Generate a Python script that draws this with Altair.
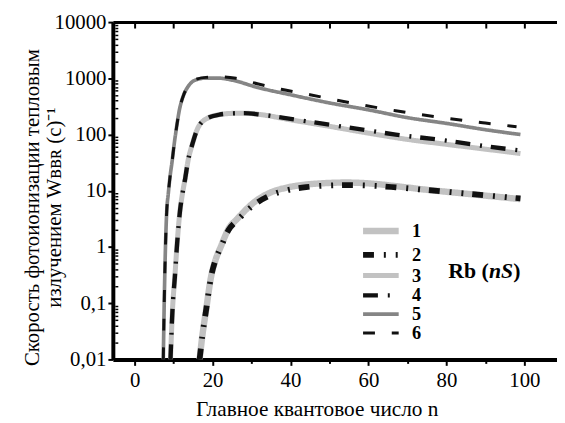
import altair as alt
import pandas as pd

# ---- data ----
SERIES = ["1", "2", "3", "4", "5", "6"]

N1 = [16.68, 17.34, 18.35, 19.62, 20.74, 22.16, 24.1, 26.4, 30.6, 34.85, 39.1, 44, 47.5, 54.3, 62, 67, 75, 80, 90, 99]
W1 = [0.01, 0.025, 0.076, 0.295, 0.58, 1.03, 2.1, 3.2, 6.2, 9.3, 11.4, 12.9, 13.5, 14.0, 13.2, 12.1, 10.4, 9.6, 8.2, 7.1]
N2 = [16.68, 17.34, 18.35, 19.62, 20.74, 22.16, 24.1, 26.4, 30.6, 34.85, 39.1, 44, 47.5, 54.3, 62, 67, 75, 80, 90, 99]
W2 = [0.01, 0.025, 0.076, 0.295, 0.58, 1.0, 2.0, 3.0, 5.6, 8.3, 10.2, 11.6, 12.2, 12.6, 12.2, 11.5, 10.3, 9.6, 8.3, 7.3]
N3 = [9.21, 9.72, 10.33, 10.91, 11.65, 12.26, 13.02, 13.7, 14.8, 16.24, 18.78, 21.75, 25, 28, 32, 40, 50, 60, 70, 80, 90, 99]
W3 = [0.01, 0.076, 0.295, 1.15, 4.4, 8.75, 17.2, 33.9, 66.7, 131, 197, 226, 238, 240, 228, 183, 140, 106, 82, 67, 55, 46]
N4 = [9.21, 9.72, 10.33, 10.91, 11.65, 12.26, 13.02, 13.7, 14.8, 16.24, 18.78, 21.75, 25, 28, 32, 40, 50, 60, 67, 80, 90, 99]
W4 = [0.01, 0.076, 0.295, 1.15, 4.4, 8.75, 17.2, 33.9, 66.7, 131, 197, 226, 238, 240, 228, 190, 150, 118, 100, 78, 62, 52]
N5 = [7.36, 7.69, 8.25, 8.63, 9.06, 9.64, 10.15, 10.74, 11.42, 12.6, 13.7, 15.4, 18.3, 21.5, 25, 31.5, 40, 50, 60, 70, 80, 90, 99]
W5 = [0.01, 0.21, 4.4, 8.7, 17, 34, 67, 131, 258, 509, 710, 920, 1010, 1010, 930, 690, 510, 365, 275, 200, 158, 122, 100]
N6 = [7.36, 7.69, 8.25, 8.63, 9.06, 9.64, 10.15, 10.74, 11.42, 12.6, 13.7, 15.4, 18.3, 22, 26, 31.5, 37.6, 45, 55, 67, 80, 90, 98]
W6 = [0.01, 0.21, 4.4, 8.7, 17, 34, 67, 131, 258, 509, 720, 940, 1040, 1060, 1000, 800, 640, 510, 372, 265, 195, 160, 138]

X_TICKS = [0, 10, 20, 30, 40, 50, 60, 70, 80, 90, 100]
Y_MAJOR = [0.01, 0.1, 1, 10, 100, 1000, 10000]
Y_MINOR = [k * d for d in [0.01, 0.1, 1, 10, 100, 1000] for k in range(2, 10)]

RB_N = [80.5]
RB_W = [0.277]

X_TITLE = "Главное квантовое число n"
Y_TITLE = ["Скорость фотоионизации тепловым", "излучением Wʙʙʀ (с)⁻¹"]

# ---- styles ----
COLORS = ["#c2c2c2", "#111111", "#c2c2c2", "#111111", "#858585", "#111111"]
DASHES = [[1, 0], [11, 10, 2, 10, 2, 9], [1, 0], [15, 10, 2, 9], [1, 0], [12, 17]]
WIDTHS = [6.5, 3, 8, 3, 3, 3]
FONT = "Liberation Serif"

rows = []
for s, ns, ws in zip(SERIES, [N1, N2, N3, N4, N5, N6], [W1, W2, W3, W4, W5, W6]):
    for n, w in zip(ns, ws):
        rows.append({"s": s, "n": n, "w": w})
df = pd.DataFrame(rows)
rb = pd.DataFrame({"n": RB_N, "w": RB_W})

xscale = alt.Scale(domain=[-5.58, 108.38], nice=False, zero=False)
yscale = alt.Scale(type="log", domain=[0.01, 10000], nice=False)

bottom_axis = alt.Axis(
    values=X_TICKS, format="d",
    labelExpr="datum.value % 20 == 0 ? datum.label : ''",
    tickSize={"condition": {"test": "datum.value % 20 != 0", "value": 4}, "value": 6},
    tickWidth=2, tickColor="black", domainWidth=4, domainColor="black",
    labelFont=FONT, labelFontSize=21, labelColor="black", labelPadding=4,
    grid=False, title=X_TITLE, titleFont=FONT, titleFontSize=21.5,
    titleFontWeight="normal", titleColor="black", titleX=206, titleY=57,
    titleBaseline="alphabetic", titleAlign="center",
)
left_axis = alt.Axis(
    values=Y_MAJOR,
    labelExpr="replace(format(datum.value, '~g'), '.', ',')",
    tickSize=5, tickWidth=2, tickColor="black", domainWidth=4, domainColor="black",
    labelFont=FONT, labelFontSize=21, labelColor="black", labelPadding=2,
    grid=False, title=Y_TITLE, titleFont=FONT, titleFontSize=21,
    titleFontWeight="normal", titleColor="black", titleAngle=270,
    titleX=-75, titleY=187, titleAlign="center", titleBaseline="alphabetic",
    titleLineHeight=22,
)
top_domain = alt.Axis(orient="top", domain=True, domainWidth=3, domainColor="black",
                      ticks=False, labels=False, title=None, grid=False)
top_ticks = alt.Axis(orient="top", offset=-6, values=X_TICKS, domain=False,
                     tickSize=6, tickWidth=2, tickColor="black",
                     labels=False, title=None, grid=False)
left_minor = alt.Axis(orient="left", offset=-5, values=Y_MINOR, domain=False,
                      tickSize=3, tickWidth=1.5, tickColor="black",
                      labels=False, title=None, grid=False)

leg = alt.Legend(
    title=None, orient="none", legendX=261.7, legendY=202, padding=0,
    symbolType="M-3.6,0H3.6", symbolSize=100, rowPadding=-2, labelOffset=22.3,
    labelFont=FONT, labelFontSize=18.5, labelFontWeight="bold", labelColor="black",
)

base = alt.Chart(df)

lines = base.mark_line(interpolate="monotone", clip=True).encode(
    x=alt.X("n:Q", scale=xscale, axis=bottom_axis),
    y=alt.Y("w:Q", scale=yscale, axis=left_axis),
    color=alt.Color("s:O", scale=alt.Scale(domain=SERIES, range=COLORS), legend=leg),
    strokeDash=alt.StrokeDash("s:O", scale=alt.Scale(domain=SERIES, range=DASHES), legend=leg),
    strokeWidth=alt.StrokeWidth("s:O", scale=alt.Scale(domain=SERIES, range=WIDTHS), legend=leg),
)

ghost = dict(opacity=0, size=1)
topdom = base.mark_point(**ghost).encode(
    x=alt.X("n:Q", scale=xscale, axis=top_domain),
    y=alt.Y("w:Q", scale=yscale, axis=None))
toptk = base.mark_point(**ghost).encode(
    x=alt.X("n:Q", scale=xscale, axis=top_ticks),
    y=alt.Y("w:Q", scale=yscale, axis=None))
leftmin = base.mark_point(**ghost).encode(
    x=alt.X("n:Q", scale=xscale, axis=None),
    y=alt.Y("w:Q", scale=yscale, axis=left_minor))

def rbtext(txt, dx, style):
    return alt.Chart(rb).mark_text(
        text=txt, dx=dx, align="left", baseline="alphabetic", font=FONT,
        fontSize=22, fontWeight="bold", fontStyle=style, color="black",
    ).encode(x=alt.X("n:Q", scale=xscale, axis=None),
             y=alt.Y("w:Q", scale=yscale, axis=None))

t1 = rbtext("Rb (", 0, "normal")
t2 = rbtext("nS", 41, "italic")
t3 = rbtext(")", 65.5, "normal")

chart = alt.layer(lines, topdom, toptk, leftmin, t1, t2, t3).resolve_axis(
    x="independent", y="independent"
).properties(
    width=449, height=341,
    padding={"left": 106, "top": 12, "right": 0, "bottom": 60},
    autosize=alt.AutoSizeParams(type="none"),
    background="white",
).configure_view(stroke=None)

chart.save("out.html", embed_options={"renderer": "svg", "actions": False})
